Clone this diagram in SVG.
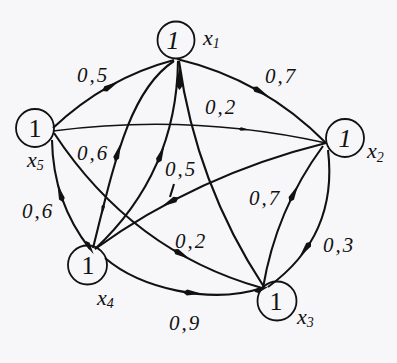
<svg xmlns="http://www.w3.org/2000/svg" xmlns:xlink="http://www.w3.org/1999/xlink" width="397" height="363" viewBox="0 0 397 363">
<style>
.edge{fill:none;stroke:#111;stroke-width:2.1}
.thin{stroke-width:1.4}
.ah{fill:#111}
.node circle{fill:none;stroke:#111;stroke-width:1.8}
.one{font-family:"Liberation Serif",serif;font-size:26px;fill:#111;text-anchor:middle}
.it{font-style:italic}
.lbl{font-family:"Liberation Serif",serif;font-style:italic;font-size:21px;letter-spacing:2px;fill:#111}
.nx{font-family:"Liberation Serif",serif;font-style:italic;font-size:22px;fill:#111}
.sub{font-size:14px}
</style>
<defs>
<path id="arr" d="M9,0 L-6,-3 L-10,0 L-6,3 Z"/>
</defs>
<rect width="397" height="363" fill="#f7f6f9"/>
<g id="connectors">
<path class="edge" d="M53,128 Q106,78 174,60"/>
<path class="edge" d="M177,59 Q263.5,79.6 326,143"/>
<path class="edge thin" d="M53,131 Q190.5,113 326,143"/>
<path class="edge" d="M174,61 C130,90 115,160 93,248"/>
<path class="edge" d="M178,61 Q176.7,172.8 95,249"/>
<path class="edge" d="M179,61 Q196,183.6 264,287"/>
<path class="edge" d="M95,249 Q197,175 326,143"/>
<path class="edge" d="M54,133 Q132,251.5 262,288"/>
<path class="edge" d="M52,140 Q53,202 90,249"/>
<path class="edge" d="M105,258 C140,288 210,305 262,288"/>
<path class="edge" d="M323,146 Q276,209.8 263,288"/>
<path class="edge" d="M328,150 Q338.4,236.1 268,287"/>
<path class="edge" d="M174,184 L170,197"/>
<use xlink:href="#arr" class="ah" transform="translate(111,86) rotate(-29.3)"/>
<use xlink:href="#arr" class="ah" transform="translate(261,92) rotate(29.4)"/>
<use xlink:href="#arr" class="ah" transform="translate(244.5,129.4) rotate(6.5) scale(0.6)"/>
<use xlink:href="#arr" class="ah" transform="translate(118,152) rotate(-72.5)"/>
<use xlink:href="#arr" class="ah" transform="translate(102.6,210) rotate(100) scale(0.6)"/>
<use xlink:href="#arr" class="ah" transform="translate(161,154) rotate(-68.6)"/>
<use xlink:href="#arr" class="ah" transform="translate(179.5,78) rotate(-90) scale(1.2)"/>
<use xlink:href="#arr" class="ah" transform="translate(169.6,202.3) rotate(152)"/>
<use xlink:href="#arr" class="ah" transform="translate(182,254.5) rotate(29.2)"/>
<use xlink:href="#arr" class="ah" transform="translate(60.1,192.8) rotate(-107.3)"/>
<use xlink:href="#arr" class="ah" transform="translate(193,293) rotate(5)"/>
<use xlink:href="#arr" class="ah" transform="translate(294,193) rotate(-63)"/>
<use xlink:href="#arr" class="ah" transform="translate(305,249.5) rotate(127)"/>
<use xlink:href="#arr" class="ah" transform="translate(262,289) rotate(-20) scale(0.8)"/>
<use xlink:href="#arr" class="ah" transform="translate(90,248) rotate(60) scale(0.8)"/>
</g>
<g id="edge-labels">
<text class="lbl" x="77" y="82">0,5</text>
<text class="lbl" x="265" y="83">0,7</text>
<text class="lbl" x="205" y="114">0,2</text>
<text class="lbl" x="77" y="160">0,6</text>
<text class="lbl" x="165" y="176">0,5</text>
<text class="lbl" x="22" y="218">0,6</text>
<text class="lbl" x="175" y="248">0,2</text>
<text class="lbl" x="249" y="205">0,7</text>
<text class="lbl" x="323" y="252">0,3</text>
<text class="lbl" x="169" y="330">0,9</text>
</g>
<g id="x1" class="node">
<circle cx="176" cy="40" r="18.5"/>
<text class="one it" x="173" y="49">1</text>
<text class="nx" x="203" y="45">x<tspan class="sub" dy="3">1</tspan></text>
</g>
<g id="x2" class="node">
<circle cx="345" cy="138" r="19"/>
<text class="one it" x="345" y="147">1</text>
<text class="nx" x="367" y="158">x<tspan class="sub" dy="4">2</tspan></text>
</g>
<g id="x3" class="node">
<circle cx="277" cy="301" r="19.5"/>
<text class="one" x="276" y="310">1</text>
<text class="nx" x="297" y="324">x<tspan class="sub" dy="3">3</tspan></text>
</g>
<g id="x4" class="node">
<circle cx="87.5" cy="265" r="19.5"/>
<text class="one" x="88" y="274">1</text>
<text class="nx" x="97" y="305">x<tspan class="sub" dy="3">4</tspan></text>
</g>
<g id="x5" class="node">
<circle cx="35" cy="128" r="19"/>
<text class="one" x="35" y="137">1</text>
<text class="nx" x="27" y="167">x<tspan class="sub" dy="3">5</tspan></text>
</g>
</svg>
